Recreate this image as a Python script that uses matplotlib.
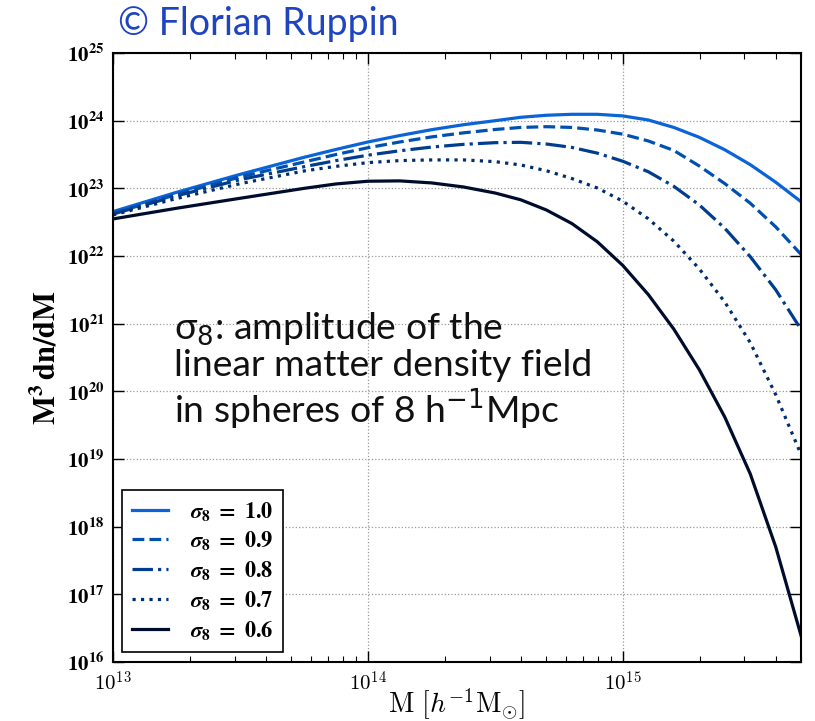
import numpy as np
import matplotlib
matplotlib.use('Agg')
import matplotlib.pyplot as plt
from matplotlib.ticker import FixedLocator, LogLocator, NullFormatter
from matplotlib.font_manager import FontProperties

plt.rcParams['mathtext.fontset'] = 'cm'

# log10 of mass [h^-1 Msun]
logM = [13.0, 13.25, 13.5, 13.75, 13.875, 14.0, 14.125, 14.25, 14.375, 14.5,
        14.6, 14.7, 14.8, 14.9, 15.0, 15.1, 15.2, 15.3, 15.4, 15.5, 15.6, 15.7]

# log10 of M^3 dn/dM
s10 = [22.656, 22.942, 23.208, 23.459, 23.575, 23.685, 23.78, 23.867, 23.94, 24.00,
       24.05, 24.08, 24.094, 24.094, 24.07, 24.01, 23.90, 23.754, 23.57, 23.35, 23.09, 22.80]
s09 = [22.63, 22.91, 23.17, 23.39, 23.50, 23.60, 23.685, 23.76, 23.82, 23.87,
       23.90, 23.911, 23.90, 23.862, 23.80, 23.70, 23.56, 23.33, 23.07, 22.78, 22.43, 22.02]
s08 = [22.62, 22.89, 23.13, 23.32, 23.41, 23.49, 23.555, 23.61, 23.65, 23.675,
       23.68, 23.655, 23.605, 23.52, 23.40, 23.245, 23.03, 22.755, 22.41, 21.99, 21.50, 20.91]
s07 = [22.607, 22.85, 23.07, 23.257, 23.325, 23.38, 23.41, 23.42, 23.42, 23.394,
       23.345, 23.26, 23.145, 23.005, 22.81, 22.55, 22.22, 21.81, 21.32, 20.72, 19.95, 19.06]
s06 = [22.548, 22.706, 22.854, 23.0, 23.065, 23.105, 23.11, 23.08, 23.02, 22.93,
       22.83, 22.68, 22.48, 22.21, 21.86, 21.43, 20.92, 20.32, 19.62, 18.78, 17.70, 16.38]

sigmas = ['1.0', '0.9', '0.8', '0.7', '0.6']
curves = [s10, s09, s08, s07, s06]
colors = ['#0a64d8', '#0050b0', '#003d8e', '#002d6e', '#000c2c']
styles = ['-', '--', '-.', ':', '-']

fig = plt.figure(figsize=(8.15, 7.21), dpi=100)
ax = fig.add_axes([0.1387, 0.0818, 0.8441, 0.8447])

M = 10**np.array(logM)
for sig, c, col, ls in zip(sigmas, curves, colors, styles):
	ax.plot(M, 10**np.array(c), color=col, ls=ls, lw=2.3,
		label=r'$\boldsymbol{\sigma}_{\mathbf{8}} \mathbf{\ =\ %s}$' % sig)

ax.set_xscale('log')
ax.set_yscale('log')
ax.set_xlim(1e13, 5e15)
ax.set_ylim(1e16, 1e25)

ax.xaxis.set_major_locator(FixedLocator([1e13, 1e14, 1e15]))
ax.set_xticklabels([r'$10^{13}$', r'$10^{14}$', r'$10^{15}$'], fontsize=15)
ax.xaxis.set_minor_locator(LogLocator(base=10, subs=np.arange(2, 10)))
ax.xaxis.set_minor_formatter(NullFormatter())

yt = [10.0**k for k in range(16, 26)]
ax.yaxis.set_major_locator(FixedLocator(yt))
ax.set_yticklabels([r'$\mathbf{10^{%d}}$' % k for k in range(16, 26)], fontsize=15)
for lab in ax.get_yticklabels():
	lab.set_math_fontfamily('stix')
ax.yaxis.set_minor_locator(LogLocator(base=10, subs=np.arange(2, 10)))
ax.yaxis.set_minor_formatter(NullFormatter())

ax.tick_params(which='both', direction='in', top=True, right=True)
ax.tick_params(which='major', length=8, width=1.0, pad=6)
ax.tick_params(which='minor', length=4, width=0.8)
for sp in ax.spines.values():
	sp.set_linewidth(1.5)

ax.grid(True, which='major', ls=':', color='#999999', lw=0.9)

ax.set_xlabel(r'$\mathrm{M}\ [h^{-1}\mathrm{M}_{\odot}]$', fontsize=20, labelpad=-6)
ax.set_ylabel(r'$\mathbf{M^3\,dn/dM}$', fontsize=22, labelpad=4, math_fontfamily='stix')

leg = ax.legend(loc='lower left', prop=FontProperties(size=16, math_fontfamily='stix'),
	handlelength=1.6, handletextpad=1.0,
	fancybox=False, edgecolor='black', framealpha=1, borderpad=0.45, labelspacing=0.3,
	borderaxespad=0, bbox_to_anchor=(0.013, 0.016))
leg.get_frame().set_linewidth(1.2)

ax.text(0.088, 0.578,
	'σ$_8$: amplitude of the\nlinear matter density field\nin spheres of 8 h$^{-1}$Mpc',
	transform=ax.transAxes, fontsize=26.8, family=['Lato', 'DejaVu Sans'],
	math_fontfamily='dejavusans', color='#111111', va='top', linespacing=1.1)

fig.text(0.145, 0.952, '© Florian Ruppin', fontsize=27, family=['Lato', 'DejaVu Sans'],
	color='#1f44bf', va='baseline')

fig.savefig('out.png', dpi=100)
